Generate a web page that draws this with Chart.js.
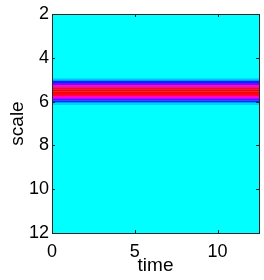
<!DOCTYPE html>
<html lang="en">

<head>
    <meta charset="UTF-8">
    <title>scale vs time</title>
    <script src="https://cdn.jsdelivr.net/npm/chart.js@4"></script>
    <style>
        body { margin: 0; background: #fff; }
    </style>
</head>

<body>
    <canvas height="280" width="264" id="chart"></canvas>
</body>
<script>
    // rows of the map (scale) and their intensity, constant along time
    var scales = [5.0, 5.1, 5.2, 5.3, 5.4, 5.5, 5.6, 5.7, 5.8, 5.9, 6.0, 6.1];
    var values = [0.08, 0.28, 0.5, 0.72, 0.93, 1.0, 1.0, 0.93, 0.72, 0.5, 0.28, 0.06];
    var timeRange = [0, 12.5];
    var xTicks = [0, 5, 10];
    var yTicks = [2, 4, 6, 8, 10, 12];

    // cyan -> blue -> magenta -> red (upper half of hsv)
    function colorOf(v) {
        var h = 180 + 180 * v;
        return 'hsl(' + h + ',100%,50%)';
    }

    var font = { family: 'Liberation Sans, Arial, sans-serif', size: 18 };

    var frame = {
        id: 'frame',
        beforeDatasetsDraw: function (chart) {
            var a = chart.chartArea, c = chart.ctx;
            c.save();
            c.fillStyle = colorOf(0);
            c.fillRect(a.left, a.top, a.right - a.left, a.bottom - a.top);
            c.restore();
        },
        afterDraw: function (chart) {
            var a = chart.chartArea, c = chart.ctx;
            var xs = chart.scales.x, ys = chart.scales.y;
            var tl = 3;
            c.save();
            c.strokeStyle = '#262626';
            c.lineWidth = 1;
            c.beginPath();
            xTicks.forEach(function (v) {
                var p = Math.round(xs.getPixelForValue(v)) + 0.5;
                c.moveTo(p, a.bottom); c.lineTo(p, a.bottom - tl);
                c.moveTo(p, a.top); c.lineTo(p, a.top + tl);
            });
            yTicks.forEach(function (v) {
                var p = Math.round(ys.getPixelForValue(v)) + 0.5;
                c.moveTo(a.left, p); c.lineTo(a.left + tl, p);
                c.moveTo(a.right, p); c.lineTo(a.right - tl, p);
            });
            c.stroke();
            c.strokeRect(Math.round(a.left) + 0.5, Math.round(a.top) + 0.5,
                Math.round(a.right - a.left), Math.round(a.bottom - a.top));
            c.restore();
        }
    };

    var context = document.getElementById("chart");
    var config = {
        type: 'bar',
        data: {
            datasets: [{
                data: scales.map(function (s) { return { x: timeRange, y: s }; }),
                backgroundColor: values.map(colorOf),
                borderWidth: 0,
                barPercentage: 1.08,
                categoryPercentage: 1
            }]
        },
        options: {
            indexAxis: 'y',
            responsive: false,
            animation: false,
            layout: { padding: { top: 14, right: 5, left: 0, bottom: 0 } },
            plugins: { legend: { display: false }, tooltip: { enabled: false } },
            scales: {
                x: {
                    type: 'linear',
                    min: timeRange[0],
                    max: timeRange[1],
                    offset: false,
                    afterBuildTicks: function (s) { s.ticks = xTicks.map(function (v) { return { value: v }; }); },
                    afterFit: function (s) { s.height = 47; },
                    grid: { display: false, drawTicks: false },
                    border: { display: false },
                    ticks: { font: font, color: '#000', padding: 8, maxRotation: 0 },
                    title: { display: true, text: 'time', font: { family: font.family, size: 19 }, color: '#000', padding: { top: 0, bottom: 3 } }
                },
                y: {
                    type: 'linear',
                    reverse: true,
                    min: 2,
                    max: 12,
                    offset: false,
                    afterBuildTicks: function (s) { s.ticks = yTicks.map(function (v) { return { value: v }; }); },
                    afterFit: function (s) { s.width = 52; },
                    grid: { display: false, drawTicks: false },
                    border: { display: false },
                    ticks: { font: font, color: '#000', padding: 3 },
                    title: { display: true, text: 'scale', font: { family: font.family, size: 19 }, color: '#000', padding: { top: 6, bottom: 0 } }
                }
            }
        },
        plugins: [frame]
    };
    var chart = new Chart(context, config);
</script>

</html>
